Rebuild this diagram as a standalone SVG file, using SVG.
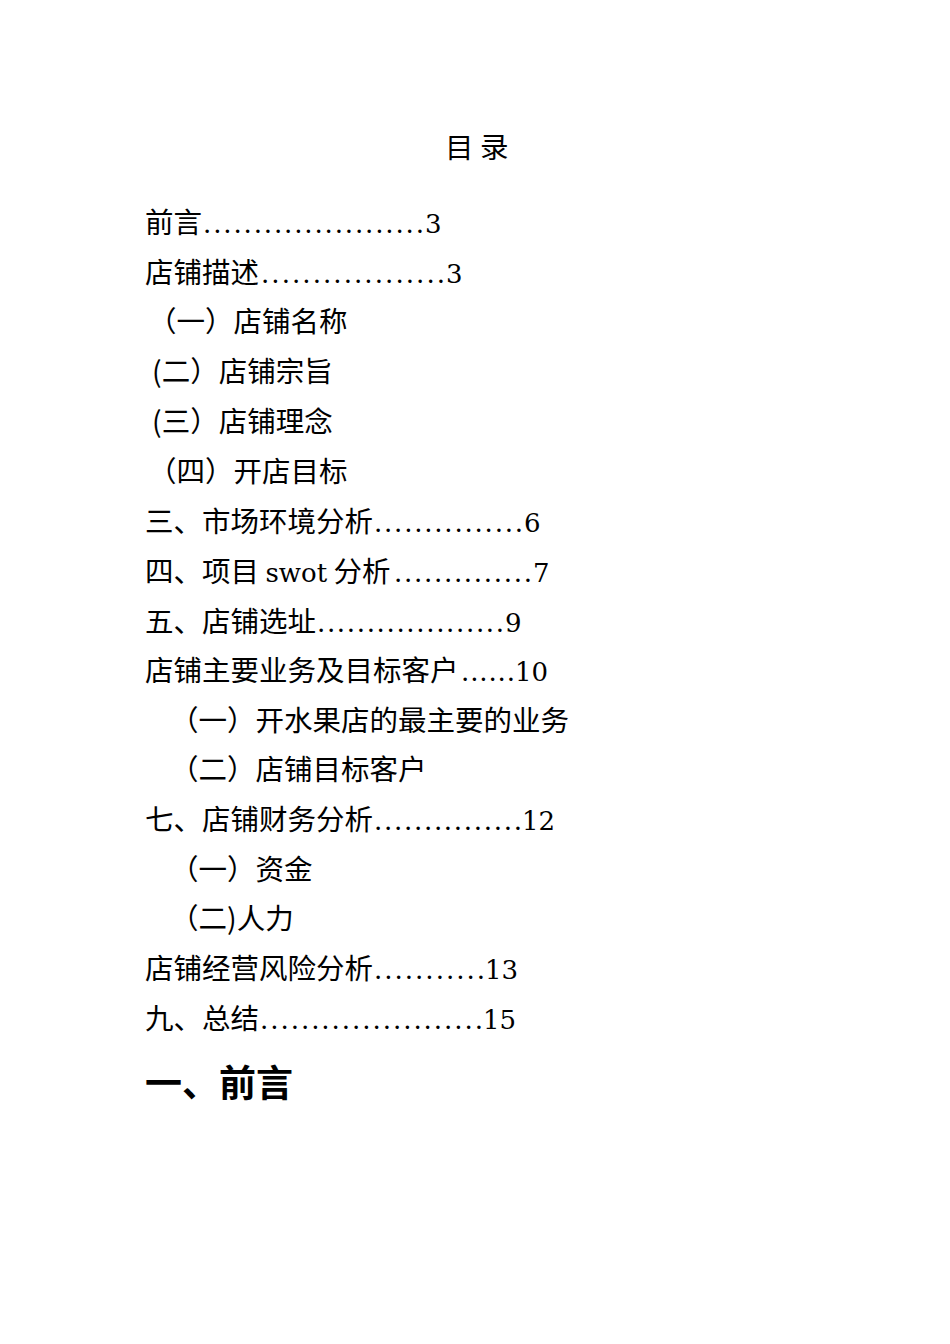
<svg xmlns="http://www.w3.org/2000/svg" width="950" height="1344" viewBox="0 0 950 1344">
<style>
text{font-family:"Noto Sans CJK SC","Noto Sans CJK JP",sans-serif;font-size:28.5px;fill:#000}
.n,.d{font-family:"DejaVu Serif","Liberation Serif",serif;font-size:26px}
.h{font-size:37px;font-weight:bold}
</style>
<rect width="950" height="1344" fill="#fff"/>
<text x="445" y="158" font-size="28">目 录</text>
<text x="145" y="233">前言</text><text class="d" x="203" y="233" textLength="221" lengthAdjust="spacing">......................</text><text class="n" x="425" y="233">3</text>
<text x="145" y="283">店铺描述</text><text class="d" x="261" y="283" textLength="184" lengthAdjust="spacing">..................</text><text class="n" x="446" y="283">3</text>
<text x="148" y="332">（一）店铺名称</text>
<text x="152" y="382">(二）店铺宗旨</text>
<text x="152" y="432">(三）店铺理念</text>
<text x="148" y="482">（四）开店目标</text>
<text x="145" y="532">三、市场环境分析</text><text class="d" x="374" y="532" textLength="149" lengthAdjust="spacing">...............</text><text class="n" x="524" y="532">6</text>
<text x="145" y="582">四、项目 <tspan class="n">swot</tspan> 分析</text><text class="d" x="394" y="582" textLength="138" lengthAdjust="spacing">..............</text><text class="n" x="533" y="582">7</text>
<text x="145" y="632">五、店铺选址</text><text class="d" x="317" y="632" textLength="187" lengthAdjust="spacing">...................</text><text class="n" x="505" y="632">9</text>
<text x="145" y="681">店铺主要业务及目标客户</text><text class="d" x="461" y="681" textLength="54" lengthAdjust="spacing">......</text><text class="n" x="515" y="681">10</text>
<text x="170" y="731">（一）开水果店的最主要的业务</text>
<text x="170" y="780">（二）店铺目标客户</text>
<text x="145" y="830">七、店铺财务分析</text><text class="d" x="374" y="830" textLength="148" lengthAdjust="spacing">...............</text><text class="n" x="522" y="830">12</text>
<text x="170" y="880">（一）资金</text>
<text x="170" y="929">（二)人力</text>
<text x="145" y="979">店铺经营风险分析</text><text class="d" x="374" y="979" textLength="111" lengthAdjust="spacing">...........</text><text class="n" x="485" y="979">13</text>
<text x="145" y="1029">九、总结</text><text class="d" x="260" y="1029" textLength="223" lengthAdjust="spacing">......................</text><text class="n" x="483" y="1029">15</text>
<text class="h" x="145" y="1097">一、前言</text>
</svg>
